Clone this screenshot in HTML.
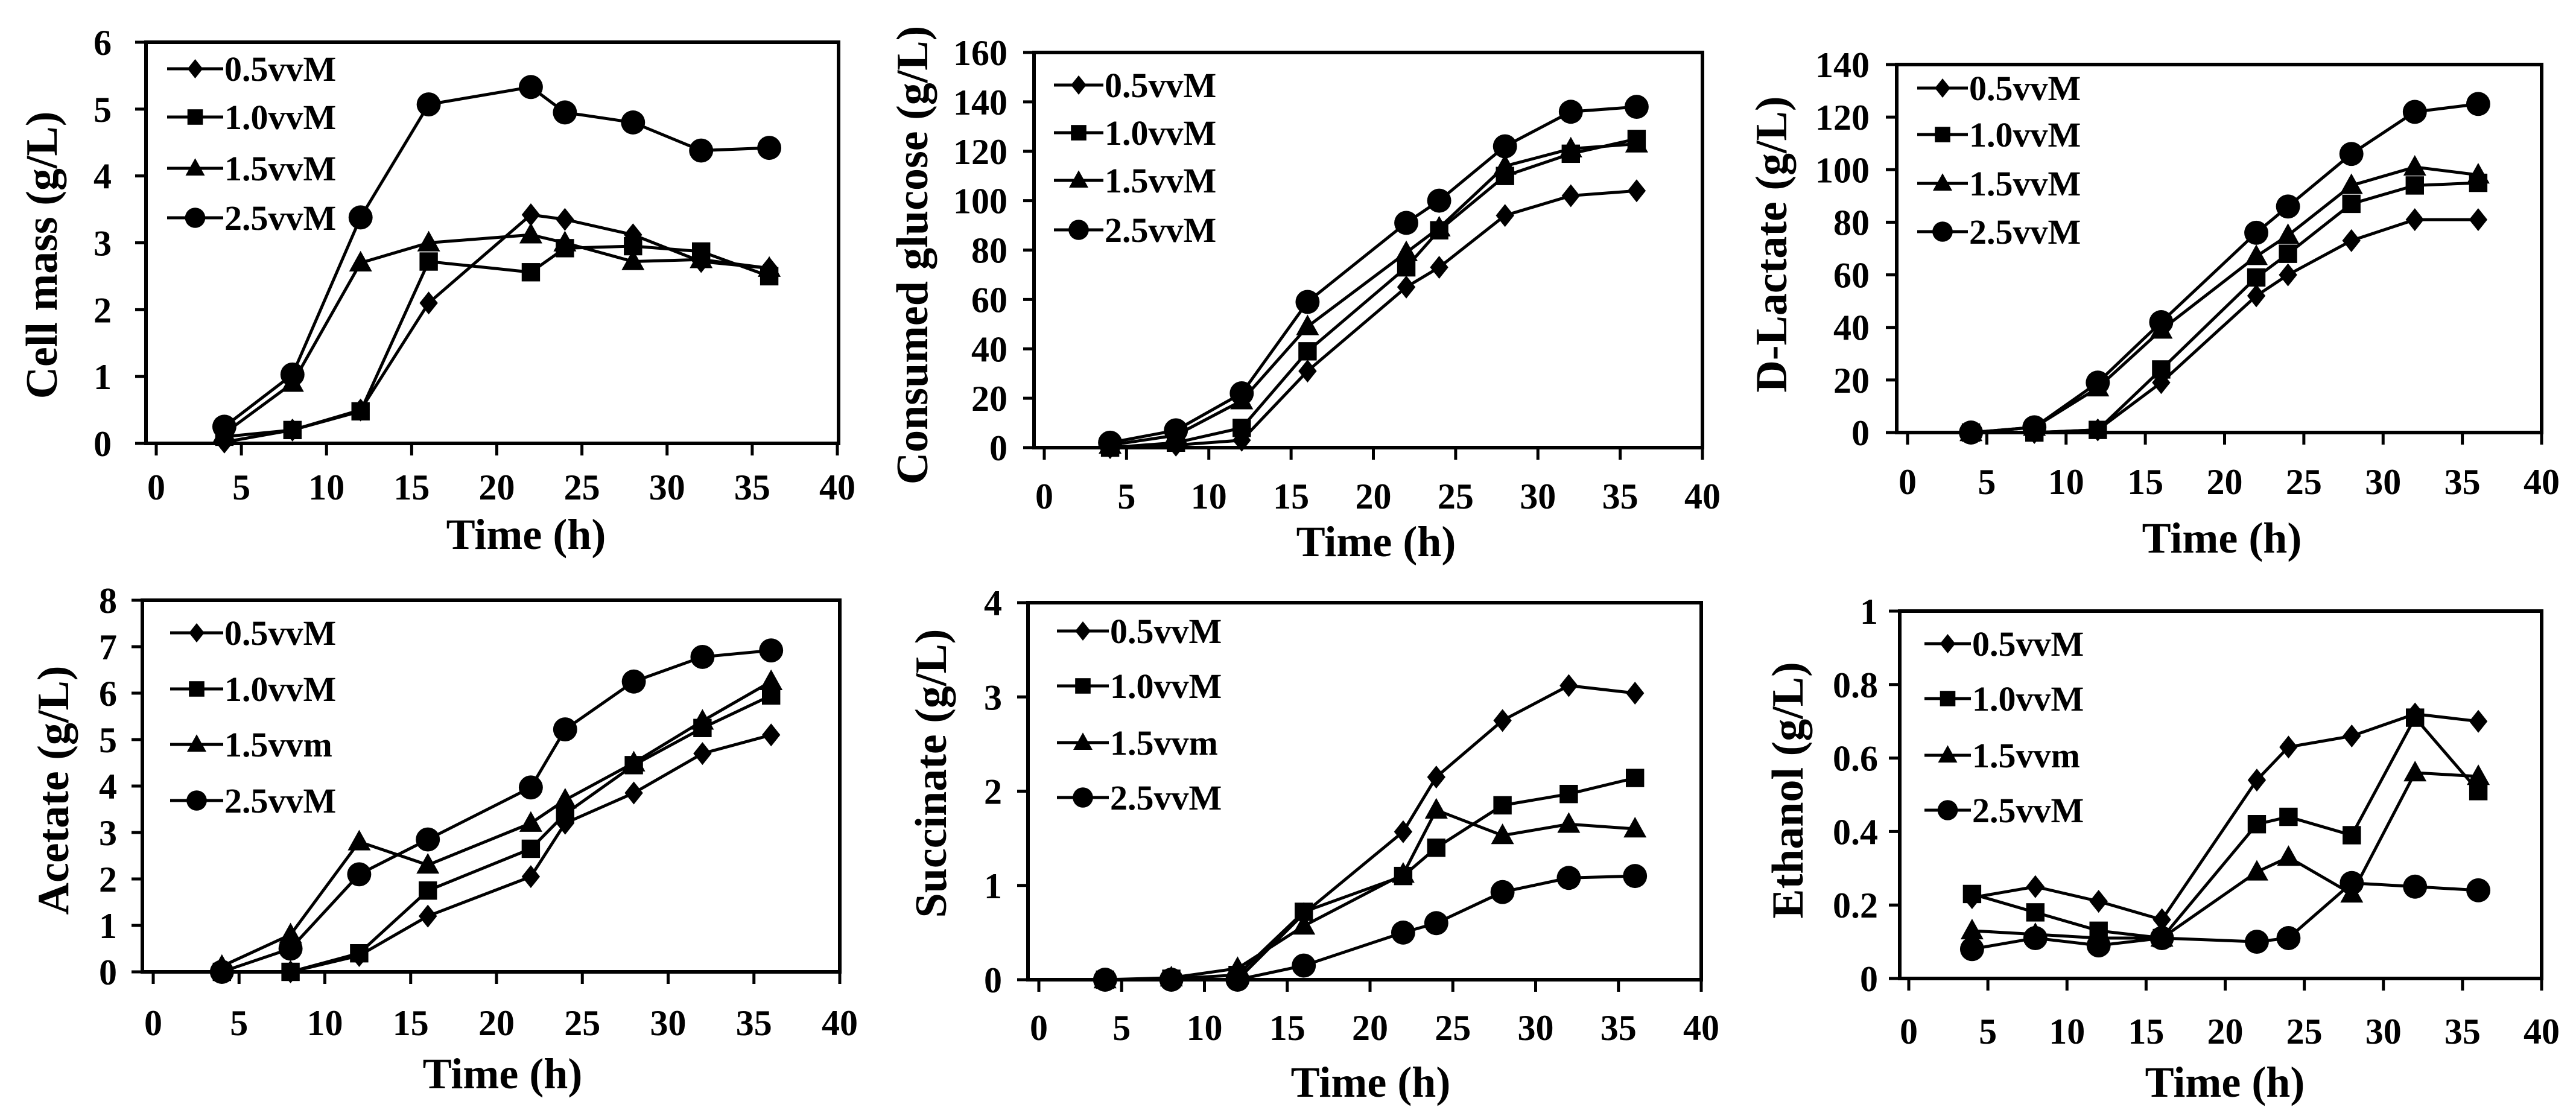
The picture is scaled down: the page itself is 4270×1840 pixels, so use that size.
<!DOCTYPE html>
<html><head><meta charset="utf-8"><style>
html,body{margin:0;padding:0;background:#fff;}
svg{display:block;}
text{font-family:"Liberation Serif","Times New Roman",serif;font-weight:bold;fill:#000;}
</style></head><body>
<svg id="s" width="4270" height="1840" xmlns="http://www.w3.org/2000/svg"></svg>
<script>
var X=[4,8,12,16,22,24,28,32,36];
var charts=[
{L:242,R:1390,T:70,B:735,x0:259,x40:1388,ymax:6,step:1,dec:0,ylr:185,xly:807,ytx:69,yty:423,yt:"Cell mass (g/L)",xtx:872,xty:886,lx1:277,lx2:370,ly:[114,194,279,361],l3:"1.5vvM",
d:[[0.02,0.2,0.5,2.1,3.42,3.35,3.12,2.72,2.62],[0.1,0.2,0.48,2.72,2.56,2.92,2.95,2.87,2.5],[0.15,0.9,2.7,3.0,3.12,3.0,2.72,2.75,2.62],[0.25,1.03,3.38,5.07,5.33,4.95,4.8,4.38,4.42]]},
{L:1714,R:2822,T:87,B:742,x0:1731,x40:2822,ymax:160,step:20,dec:0,ylr:1670,xly:822,ytx:1512,yty:423,yt:"Consumed glucose (g/L)",xtx:2281,xty:898,lx1:1747,lx2:1829,ly:[141,220,299,381],l3:"1.5vvM",
d:[[0,1,3,31,65,73,94,102,104],[0,2,8,39,73,88,110,119,125],[1,5,19,49,79,89,114,121,123],[2,7,22,59,91,100,122,136,138]]},
{L:3144,R:4213,T:107,B:717,x0:3162,x40:4213,ymax:140,step:20,dec:0,ylr:3099,xly:798,ytx:2936,yty:405,yt:"D-Lactate (g/L)",xtx:3683,xty:892,lx1:3178,lx2:3262,ly:[146,223,304,384],l3:"1.5vvM",
d:[[0,0,1,19,52,60,73,81,81],[0,0,1,24,59,68,87,94,95],[0,2,17,39,67,75,94,101,98],[0,2,19,42,76,86,106,122,125]]},
{L:236,R:1392,T:995,B:1611,x0:254,x40:1392,ymax:8,step:1,dec:0,ylr:194,xly:1695,ytx:88,yty:1310,yt:"Acetate (g/L)",xtx:833,xty:1780,lx1:282,lx2:370,ly:[1049,1142,1234,1327],l3:"1.5vvm",
d:[[0,0,0.35,1.2,2.05,3.2,3.85,4.7,5.1],[0,0,0.4,1.75,2.65,3.4,4.45,5.25,5.95],[0.12,0.8,2.8,2.3,3.2,3.7,4.5,5.4,6.25],[0,0.5,2.1,2.85,3.97,5.22,6.25,6.78,6.92]]},
{L:1704,R:2820,T:999,B:1624,x0:1722,x40:2820,ymax:4,step:1,dec:0,ylr:1661,xly:1703,ytx:1543,yty:1282,yt:"Succinate (g/L)",xtx:2272,xty:1794,lx1:1752,lx2:1838,ly:[1046,1137,1231,1322],l3:"1.5vvm",
d:[[0,0,0,0.7,1.57,2.15,2.75,3.12,3.04],[0,0.01,0.05,0.72,1.1,1.4,1.85,1.97,2.14],[0,0.02,0.12,0.57,1.12,1.8,1.53,1.65,1.6],[0,0,0,0.15,0.5,0.6,0.93,1.08,1.1]]},
{L:3149,R:4213,T:1013,B:1622,x0:3164,x40:4213,ymax:1,step:0.2,dec:1,ylr:3113,xly:1709,ytx:2963,yty:1310,yt:"Ethanol (g/L)",xtx:3688,xty:1794,lx1:3190,lx2:3267,ly:[1067,1158,1252,1343],l3:"1.5vvm",
d:[[0.22,0.25,0.21,0.16,0.54,0.63,0.66,0.72,0.70],[0.23,0.18,0.13,0.11,0.42,0.44,0.39,0.71,0.51],[0.13,0.12,0.11,0.11,0.29,0.33,0.23,0.56,0.55],[0.08,0.11,0.09,0.11,0.10,0.11,0.26,0.25,0.24]]}
];
function mk(t,x,y,s){
 if(t==0) return '<polygon points="'+x+','+(y-s)+' '+(x+s*0.8)+','+y+' '+x+','+(y+s)+' '+(x-s*0.8)+','+y+'"/>';
 if(t==1) return '<rect x="'+(x-s*0.8)+'" y="'+(y-s*0.8)+'" width="'+(s*1.6)+'" height="'+(s*1.6)+'"/>';
 if(t==2) return '<polygon points="'+x+','+(y-s*1.05)+' '+(x+s)+','+(y+s*0.75)+' '+(x-s)+','+(y+s*0.75)+'"/>';
 return '<circle cx="'+x+'" cy="'+y+'" r="'+(s*1.05)+'"/>';
}
var h='';
var labs=["0.5vvM","1.0vvM",null,"2.5vvM"];
charts.forEach(function(c){
 var sx=function(v){return c.x0+(c.x40-c.x0)*v/40;};
 var sy=function(v){return c.B-(c.B-c.T)*v/c.ymax;};
 h+='<rect x="'+c.L+'" y="'+c.T+'" width="'+(c.R-c.L)+'" height="'+(c.B-c.T)+'" fill="none" stroke="#000" stroke-width="6"/>';
 for(var i=0;i<=8;i++){var x=sx(i*5);h+='<line x1="'+x+'" y1="'+c.B+'" x2="'+x+'" y2="'+(c.B+20)+'" stroke="#000" stroke-width="5"/>';
  h+='<text x="'+x+'" y="'+(c.xly+21)+'" font-size="60" text-anchor="middle">'+(i*5)+'</text>';}
 var n=Math.round(c.ymax/c.step);
 for(var j=0;j<=n;j++){var v=j*c.step;var y=sy(v);
  h+='<line x1="'+(c.L-18)+'" y1="'+y+'" x2="'+c.L+'" y2="'+y+'" stroke="#000" stroke-width="5"/>';
  var s=c.dec?(j==0?"0":(j==n?"1":v.toFixed(1))):String(v);
  h+='<text x="'+c.ylr+'" y="'+(y+21)+'" font-size="60" text-anchor="end">'+s+'</text>';}
 h+='<text x="'+c.xtx+'" y="'+(c.xty+24)+'" font-size="72" text-anchor="middle">Time (h)</text>';
 h+='<text transform="translate('+(c.ytx+25)+','+c.yty+') rotate(-90)" font-size="74" text-anchor="middle">'+c.yt+'</text>';
 c.d.forEach(function(ser,k){
  var p=ser.map(function(v,i){return sx(X[i])+','+sy(v);}).join(' ');
  h+='<polyline points="'+p+'" fill="none" stroke="#000" stroke-width="5"/>';
  h+='<g fill="#000">';ser.forEach(function(v,i){h+=mk(k,sx(X[i]),sy(v),19);});h+='</g>';
  var ly=c.ly[k];
  h+='<line x1="'+c.lx1+'" y1="'+ly+'" x2="'+c.lx2+'" y2="'+ly+'" stroke="#000" stroke-width="5"/>';
  h+='<g fill="#000">'+mk(k,(c.lx1+c.lx2)/2,ly,16)+'</g>';
  h+='<text x="'+(c.lx2+2)+'" y="'+(ly+20)+'" font-size="58">'+(k==2?c.l3:labs[k])+'</text>';
 });
});
document.getElementById('s').innerHTML=h;
</script>
</body></html>
